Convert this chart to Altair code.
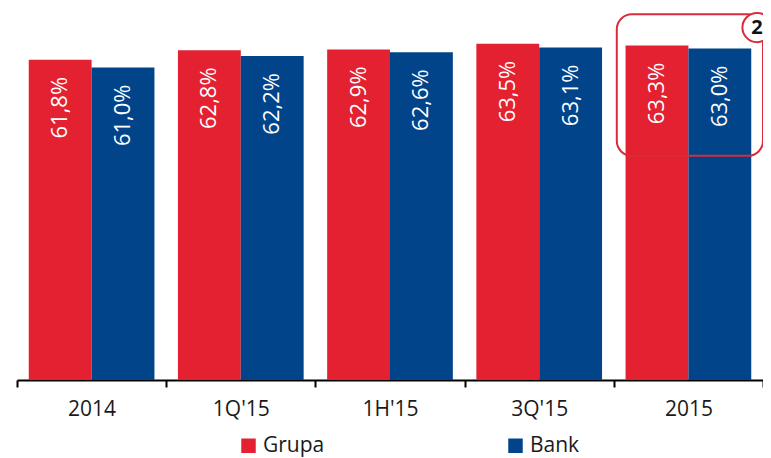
import altair as alt
import pandas as pd

categories = ["2014", "1Q'15", "1H'15", "3Q'15", "2015"]
grupa = [61.8, 62.8, 62.9, 63.5, 63.3]
bank = [61.0, 62.2, 62.6, 63.1, 63.0]
series = ["Grupa", "Bank"]
colors = ["#E32130", "#01448A"]

# annotation (highlight box around 2015 + numbered badge)
annot_cat = ["2015"]
annot_top = [66.6]
annot_bottom = [51.7]
badge_value = [65.2]
badge_text = ["2"]

rows = []
for c, g, b in zip(categories, grupa, bank):
    rows.append({"cat": c, "series": "Grupa", "value": g})
    rows.append({"cat": c, "series": "Bank", "value": b})
df = pd.DataFrame(rows)
df["label"] = df["value"].map(lambda v: f"{v:.1f}".replace(".", ",") + "%")

df_box = pd.DataFrame({"cat": annot_cat, "top": annot_top, "bottom": annot_bottom})
df_badge = pd.DataFrame({"cat": annot_cat, "value": badge_value, "t": badge_text})

FONT = "Open Sans"

x_enc = alt.X(
    "cat:N", sort=categories,
    scale=alt.Scale(paddingInner=0, paddingOuter=0),
    axis=alt.Axis(title=None, labelAngle=0, tickBand="extent"),
)
xo_enc = alt.XOffset(
    "series:N", sort=series,
    scale=alt.Scale(paddingInner=0, paddingOuter=0.187),
)
y_scale = alt.Scale(domain=[28.1, 67.05], zero=False, nice=False)
y_enc = alt.Y("value:Q", scale=y_scale, axis=None)

bars = alt.Chart(df).mark_bar(clip=True).encode(
    x=x_enc,
    xOffset=xo_enc,
    y=y_enc,
    color=alt.Color(
        "series:N", sort=series,
        scale=alt.Scale(domain=series, range=colors),
        legend=alt.Legend(
            title=None, orient="none", direction="horizontal",
            legendX=221, legendY=425, padding=0,
            symbolType="square", symbolSize=210, symbolStrokeWidth=0,
            labelFontSize=21, labelFont=FONT, labelColor="#1a1a1a",
            labelOffset=4, columnPadding=180,
        ),
    ),
)

labels = alt.Chart(df).mark_text(
    angle=270, align="right", baseline="middle", dx=-17,
    color="white", fontSize=22, font=FONT,
).encode(x=x_enc, xOffset=xo_enc, y=y_enc, text="label:N")

box = alt.Chart(df_box).mark_rect(
    fillOpacity=0, stroke="#D92B3A", strokeWidth=2, cornerRadius=15,
).encode(
    x=alt.X("cat:N", sort=categories, bandPosition=0.02),
    x2=alt.X2("cat:N", bandPosition=1),
    y=alt.Y("top:Q", scale=y_scale, axis=None),
    y2="bottom:Q",
)

badge = alt.Chart(df_badge).mark_point(
    shape="circle", filled=True, fill="white", stroke="#D92B3A",
    strokeWidth=2, size=855, opacity=1,
).encode(
    x=alt.X("cat:N", sort=categories, bandPosition=0.96),
    y=alt.Y("value:Q", scale=y_scale, axis=None),
)

badge_txt = alt.Chart(df_badge).mark_text(
    fontSize=20, fontWeight="bold", color="#111111", font=FONT,
    baseline="middle", align="center",
).encode(
    x=alt.X("cat:N", sort=categories, bandPosition=0.96),
    y=alt.Y("value:Q", scale=y_scale, axis=None),
    text="t:N",
)

chart = alt.layer(bars, labels, box, badge, badge_txt).properties(
    width=746, height=370,
    autosize=alt.AutoSizeParams(type="none"),
    padding={"left": 9, "top": 2, "right": 0, "bottom": 78},
).configure_view(stroke=None).configure_axis(
    domainColor="black", domainWidth=2, tickColor="black", tickWidth=2,
    tickSize=7, labelFontSize=21, labelFont=FONT, labelColor="#1a1a1a",
    labelPadding=11, grid=False,
)

chart.save("out.html", embed_options={"renderer": "svg", "actions": False})
